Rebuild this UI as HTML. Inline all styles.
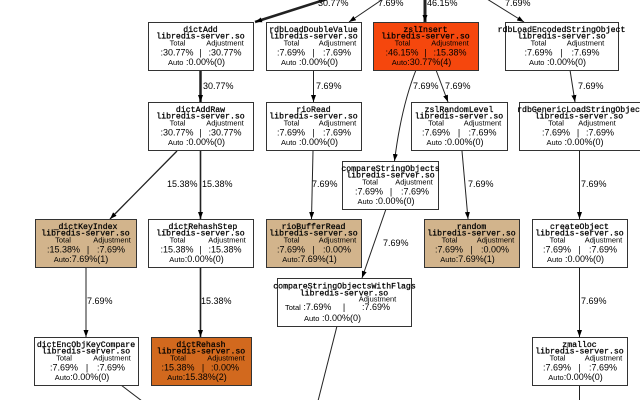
<!DOCTYPE html>
<html>
<head>
<meta charset="utf-8">
<style>
  html,body{margin:0;padding:0;background:#fff;}
  body{width:640px;height:400px;overflow:hidden;}
  svg{display:block;}
  .t{font-family:"Liberation Mono",monospace;font-size:8.2px;fill:#000;stroke:#000;stroke-width:0.25;text-anchor:middle;}
  .h{font-family:"Liberation Sans",sans-serif;font-size:7.5px;fill:#000;text-anchor:middle;}
  .v{font-family:"Liberation Sans",sans-serif;font-size:9px;fill:#000;text-anchor:middle;}
  .a{font-family:"Liberation Sans",sans-serif;font-size:9px;fill:#000;text-anchor:middle;}
  .a tspan.s{font-size:7.5px;}
  .l{font-family:"Liberation Sans",sans-serif;font-size:9px;fill:#000;}
  .b{stroke:#333;stroke-width:1;}
  .e{stroke:#222;fill:none;}
</style>
</head>
<body>
<svg width="640" height="400" viewBox="0 0 640 400" xmlns="http://www.w3.org/2000/svg">
<defs>
  <marker id="ar" viewBox="0 0 7 5" refX="7" refY="2.5" markerWidth="7" markerHeight="5" markerUnits="userSpaceOnUse" orient="auto">
    <path d="M0,0 L7,2.5 L0,5 z" fill="#000"/>
  </marker>
</defs>

<!-- ===== EDGES ===== -->
<line class="e" x1="327" y1="-1" x2="255" y2="22" stroke-width="2.5" marker-end="url(#ar)"/>
<line class="e" x1="383" y1="-1" x2="349" y2="22" stroke-width="1" marker-end="url(#ar)"/>
<line class="e" x1="425" y1="-1" x2="425" y2="22" stroke-width="3" marker-end="url(#ar)"/>
<line class="e" x1="487" y1="-1" x2="524" y2="22" stroke-width="1" marker-end="url(#ar)"/>
<text class="l" x="318" y="6">30.77%</text>
<text class="l" x="378" y="6">7.69%</text>
<text class="l" x="427" y="6">46.15%</text>
<text class="l" x="505" y="6">7.69%</text>

<line class="e" x1="200.5" y1="70" x2="200.5" y2="102" stroke-width="2.5" marker-end="url(#ar)"/>
<text class="l" x="203" y="89">30.77%</text>
<line class="e" x1="313.5" y1="70" x2="313.5" y2="102" stroke-width="1" marker-end="url(#ar)"/>
<text class="l" x="316" y="89">7.69%</text>
<line class="e" x1="436" y1="70" x2="448" y2="102" stroke-width="1" marker-end="url(#ar)"/>
<text class="l" x="445" y="89">7.69%</text>
<path class="e" d="M416,70 C406,95 399,125 394.5,161" stroke-width="1" marker-end="url(#ar)"/>
<text class="l" x="413" y="89">7.69%</text>
<line class="e" x1="570" y1="70" x2="575" y2="102" stroke-width="1" marker-end="url(#ar)"/>
<text class="l" x="578" y="89">7.69%</text>

<line class="e" x1="177" y1="151" x2="110" y2="219" stroke-width="1.3" marker-end="url(#ar)"/>
<text class="l" x="167" y="187">15.38%</text>
<line class="e" x1="200.5" y1="151" x2="200.5" y2="219" stroke-width="1.6" marker-end="url(#ar)"/>
<text class="l" x="202" y="187">15.38%</text>
<line class="e" x1="313" y1="151" x2="311.5" y2="219" stroke-width="1" marker-end="url(#ar)"/>
<text class="l" x="312" y="187">7.69%</text>
<line class="e" x1="462" y1="151" x2="468" y2="219" stroke-width="1" marker-end="url(#ar)"/>
<text class="l" x="468" y="187">7.69%</text>
<line class="e" x1="579.5" y1="151" x2="579.5" y2="219" stroke-width="1" marker-end="url(#ar)"/>
<text class="l" x="581" y="187">7.69%</text>
<line class="e" x1="386" y1="209" x2="362" y2="278" stroke-width="1" marker-end="url(#ar)"/>
<text class="l" x="383" y="246">7.69%</text>

<line class="e" x1="86" y1="268" x2="86" y2="337" stroke-width="1" marker-end="url(#ar)"/>
<text class="l" x="87" y="304">7.69%</text>
<line class="e" x1="200.5" y1="268" x2="200.5" y2="337" stroke-width="1.6" marker-end="url(#ar)"/>
<text class="l" x="201" y="304">15.38%</text>
<line class="e" x1="579.5" y1="268" x2="579.5" y2="337" stroke-width="1" marker-end="url(#ar)"/>
<text class="l" x="581" y="304">7.69%</text>

<line class="e" x1="337" y1="326" x2="318" y2="401" stroke-width="1"/>
<line class="e" x1="121" y1="385" x2="142" y2="401" stroke-width="1"/>
<line class="e" x1="579.5" y1="385" x2="579.5" y2="401" stroke-width="1"/>

<!-- ===== NODES ===== -->
<!-- dictAdd -->
<rect class="b" x="148.5" y="22.5" width="105" height="48" fill="#fff"/>
<text class="t" x="200.5" y="32">dictAdd</text>
<text class="t" x="200.5" y="38.5">libredis-server.so</text>
<text class="h" x="177.5" y="45.5">Total</text><text class="h" x="225" y="45.5">Adjustment</text>
<text class="v" x="177" y="55.5">:30.77%</text><text class="v" x="200.5" y="55.5">|</text><text class="v" x="225" y="55.5">:30.77%</text>
<text class="a" x="196.5" y="65"><tspan class="s">Auto</tspan> :0.00%(0)</text>

<!-- rdbLoadDoubleValue -->
<rect class="b" x="266.5" y="22.5" width="95" height="48" fill="#fff"/>
<text class="t" x="313.5" y="32">rdbLoadDoubleValue</text>
<text class="t" x="313.5" y="38.5">libredis-server.so</text>
<text class="h" x="291.5" y="45.5">Total</text><text class="h" x="337.5" y="45.5">Adjustment</text>
<text class="v" x="291" y="55.5">:7.69%</text><text class="v" x="313.5" y="55.5">|</text><text class="v" x="337" y="55.5">:7.69%</text>
<text class="a" x="309.5" y="65"><tspan class="s">Auto</tspan> :0.00%(0)</text>

<!-- zslInsert -->
<rect class="b" x="373.5" y="22.5" width="105" height="48" fill="#f5470d"/>
<text class="t" x="425.5" y="32">zslInsert</text>
<text class="t" x="425.5" y="38.5">libredis-server.so</text>
<text class="h" x="402.5" y="45.5">Total</text><text class="h" x="450" y="45.5">Adjustment</text>
<text class="v" x="402" y="55.5">:46.15%</text><text class="v" x="425.5" y="55.5">|</text><text class="v" x="450" y="55.5">:15.38%</text>
<text class="a" x="421.5" y="65"><tspan class="s">Auto</tspan>:30.77%(4)</text>

<!-- rdbLoadEncodedStringObject -->
<rect class="b" x="505.5" y="22.5" width="113" height="48" fill="#fff"/>
<text class="t" x="561.5" y="32">rdbLoadEncodedStringObject</text>
<text class="t" x="561.5" y="38.5">libredis-server.so</text>
<text class="h" x="538.5" y="45.5">Total</text><text class="h" x="585.5" y="45.5">Adjustment</text>
<text class="v" x="538.5" y="55.5">:7.69%</text><text class="v" x="561.5" y="55.5">|</text><text class="v" x="585.5" y="55.5">:7.69%</text>
<text class="a" x="557.5" y="65"><tspan class="s">Auto</tspan> :0.00%(0)</text>

<!-- dictAddRaw -->
<rect class="b" x="148.5" y="102.5" width="105" height="48" fill="#fff"/>
<text class="t" x="200.5" y="112">dictAddRaw</text>
<text class="t" x="200.5" y="118.5">libredis-server.so</text>
<text class="h" x="177.5" y="125.5">Total</text><text class="h" x="225" y="125.5">Adjustment</text>
<text class="v" x="177" y="135.5">:30.77%</text><text class="v" x="200.5" y="135.5">|</text><text class="v" x="225" y="135.5">:30.77%</text>
<text class="a" x="196.5" y="145"><tspan class="s">Auto</tspan> :0.00%(0)</text>

<!-- rioRead -->
<rect class="b" x="266.5" y="102.5" width="95" height="48" fill="#fff"/>
<text class="t" x="313.5" y="112">rioRead</text>
<text class="t" x="313.5" y="118.5">libredis-server.so</text>
<text class="h" x="291.5" y="125.5">Total</text><text class="h" x="337.5" y="125.5">Adjustment</text>
<text class="v" x="291" y="135.5">:7.69%</text><text class="v" x="313.5" y="135.5">|</text><text class="v" x="337" y="135.5">:7.69%</text>
<text class="a" x="309.5" y="145"><tspan class="s">Auto</tspan> :0.00%(0)</text>

<!-- zslRandomLevel -->
<rect class="b" x="411.5" y="102.5" width="96" height="48" fill="#fff"/>
<text class="t" x="459" y="112">zslRandomLevel</text>
<text class="t" x="459" y="118.5">libredis-server.so</text>
<text class="h" x="436" y="125.5">Total</text><text class="h" x="482.5" y="125.5">Adjustment</text>
<text class="v" x="436" y="135.5">:7.69%</text><text class="v" x="459" y="135.5">|</text><text class="v" x="482.5" y="135.5">:7.69%</text>
<text class="a" x="455" y="145"><tspan class="s">Auto</tspan> :0.00%(0)</text>

<!-- rdbGenericLoadStringObject -->
<rect class="b" x="519.5" y="102.5" width="121" height="48" fill="#fff"/>
<text class="t" x="581" y="112">rdbGenericLoadStringObject</text>
<text class="t" x="579" y="118.5">libredis-server.so</text>
<text class="h" x="556" y="125.5">Total</text><text class="h" x="597" y="125.5">Adjustment</text>
<text class="v" x="556" y="135.5">:7.69%</text><text class="v" x="578" y="135.5">|</text><text class="v" x="600" y="135.5">:7.69%</text>
<text class="a" x="575" y="145"><tspan class="s">Auto</tspan> :0.00%(0)</text>

<!-- compareStringObjects -->
<rect class="b" x="342.5" y="161.5" width="96" height="48" fill="#fff"/>
<text class="t" x="390.5" y="171">compareStringObjects</text>
<text class="t" x="390.5" y="177.5">libredis-server.so</text>
<text class="h" x="370" y="184.5">Total</text><text class="h" x="414" y="184.5">Adjustment</text>
<text class="v" x="369" y="194.5">:7.69%</text><text class="v" x="391" y="194.5">|</text><text class="v" x="415" y="194.5">:7.69%</text>
<text class="a" x="386" y="204"><tspan class="s">Auto</tspan> :0.00%(0)</text>

<!-- _dictKeyIndex -->
<rect class="b" x="35.5" y="219.5" width="101" height="48" fill="#d2b48c"/>
<text class="t" x="85.5" y="229">_dictKeyIndex</text>
<text class="t" x="85.5" y="235.5">libredis-server.so</text>
<text class="h" x="63" y="242.5">Total</text><text class="h" x="112" y="242.5">Adjustment</text>
<text class="v" x="63.5" y="252.5">:15.38%</text><text class="v" x="88" y="252.5">|</text><text class="v" x="111" y="252.5">:7.69%</text>
<text class="a" x="81" y="262"><tspan class="s">Auto</tspan>:7.69%(1)</text>

<!-- _dictRehashStep -->
<rect class="b" x="148.5" y="219.5" width="105" height="48" fill="#fff"/>
<text class="t" x="200.5" y="229">_dictRehashStep</text>
<text class="t" x="200.5" y="235.5">libredis-server.so</text>
<text class="h" x="177.5" y="242.5">Total</text><text class="h" x="227" y="242.5">Adjustment</text>
<text class="v" x="177" y="252.5">:15.38%</text><text class="v" x="200.5" y="252.5">|</text><text class="v" x="225" y="252.5">:15.38%</text>
<text class="a" x="196.5" y="262"><tspan class="s">Auto</tspan>:0.00%(0)</text>

<!-- rioBufferRead -->
<rect class="b" x="266.5" y="219.5" width="95" height="48" fill="#d2b48c"/>
<text class="t" x="313.5" y="229">rioBufferRead</text>
<text class="t" x="313.5" y="235.5">libredis-server.so</text>
<text class="h" x="291.5" y="242.5">Total</text><text class="h" x="337.5" y="242.5">Adjustment</text>
<text class="v" x="291" y="252.5">:7.69%</text><text class="v" x="313.5" y="252.5">|</text><text class="v" x="337" y="252.5">:0.00%</text>
<text class="a" x="309.5" y="262"><tspan class="s">Auto</tspan>:7.69%(1)</text>

<!-- random -->
<rect class="b" x="424.5" y="219.5" width="95" height="48" fill="#d2b48c"/>
<text class="t" x="471.5" y="229">random</text>
<text class="t" x="471.5" y="235.5">libredis-server.so</text>
<text class="h" x="449.5" y="242.5">Total</text><text class="h" x="495.5" y="242.5">Adjustment</text>
<text class="v" x="449" y="252.5">:7.69%</text><text class="v" x="471.5" y="252.5">|</text><text class="v" x="495" y="252.5">:0.00%</text>
<text class="a" x="467.5" y="262"><tspan class="s">Auto</tspan>:7.69%(1)</text>

<!-- createObject -->
<rect class="b" x="532.5" y="219.5" width="95" height="48" fill="#fff"/>
<text class="t" x="579.5" y="229">createObject</text>
<text class="t" x="579.5" y="235.5">libredis-server.so</text>
<text class="h" x="557.5" y="242.5">Total</text><text class="h" x="603.5" y="242.5">Adjustment</text>
<text class="v" x="557" y="252.5">:7.69%</text><text class="v" x="579.5" y="252.5">|</text><text class="v" x="603" y="252.5">:7.69%</text>
<text class="a" x="575.5" y="262"><tspan class="s">Auto</tspan> :0.00%(0)</text>

<!-- compareStringObjectsWithFlags -->
<rect class="b" x="277.5" y="278.5" width="134" height="48" fill="#fff"/>
<text class="t" x="344.5" y="288.5">compareStringObjectsWithFlags</text>
<text class="t" x="344" y="295.5">libredis-server.so</text>
<text class="h" x="377.5" y="301.5">Adjustment</text>
<text class="l" x="285" y="310"><tspan font-size="7.5">Total</tspan> :7.69%</text>
<text class="v" x="344" y="310">|</text>
<text class="l" x="362" y="310">:7.69%</text>
<text class="l" x="304" y="321"><tspan font-size="7.5">Auto</tspan>  :0.00%(0)</text>

<!-- dictEncObjKeyCompare -->
<rect class="b" x="34.5" y="337.5" width="104" height="48" fill="#fff"/>
<text class="t" x="86" y="347">dictEncObjKeyCompare</text>
<text class="t" x="86" y="353.5">libredis-server.so</text>
<text class="h" x="64" y="360.5">Total</text><text class="h" x="112" y="360.5">Adjustment</text>
<text class="v" x="64" y="370.5">:7.69%</text><text class="v" x="87" y="370.5">|</text><text class="v" x="111" y="370.5">:7.69%</text>
<text class="a" x="82" y="380"><tspan class="s">Auto</tspan>:0.00%(0)</text>

<!-- dictRehash -->
<rect class="b" x="151.5" y="337.5" width="100" height="48" fill="#d2691e"/>
<text class="t" x="201" y="347">dictRehash</text>
<text class="t" x="201" y="353.5">libredis-server.so</text>
<text class="h" x="178" y="360.5">Total</text><text class="h" x="226" y="360.5">Adjustment</text>
<text class="v" x="178" y="370.5">:15.38%</text><text class="v" x="203" y="370.5">|</text><text class="v" x="225" y="370.5">:0.00%</text>
<text class="a" x="197" y="380"><tspan class="s">Auto</tspan>:15.38%(2)</text>

<!-- zmalloc -->
<rect class="b" x="532.5" y="337.5" width="95" height="48" fill="#fff"/>
<text class="t" x="579.5" y="347">zmalloc</text>
<text class="t" x="579.5" y="353.5">libredis-server.so</text>
<text class="h" x="557.5" y="360.5">Total</text><text class="h" x="603.5" y="360.5">Adjustment</text>
<text class="v" x="557" y="370.5">:7.69%</text><text class="v" x="579.5" y="370.5">|</text><text class="v" x="603" y="370.5">:7.69%</text>
<text class="a" x="575.5" y="380"><tspan class="s">Auto</tspan>:0.00%(0)</text>
</svg>
</body>
</html>
